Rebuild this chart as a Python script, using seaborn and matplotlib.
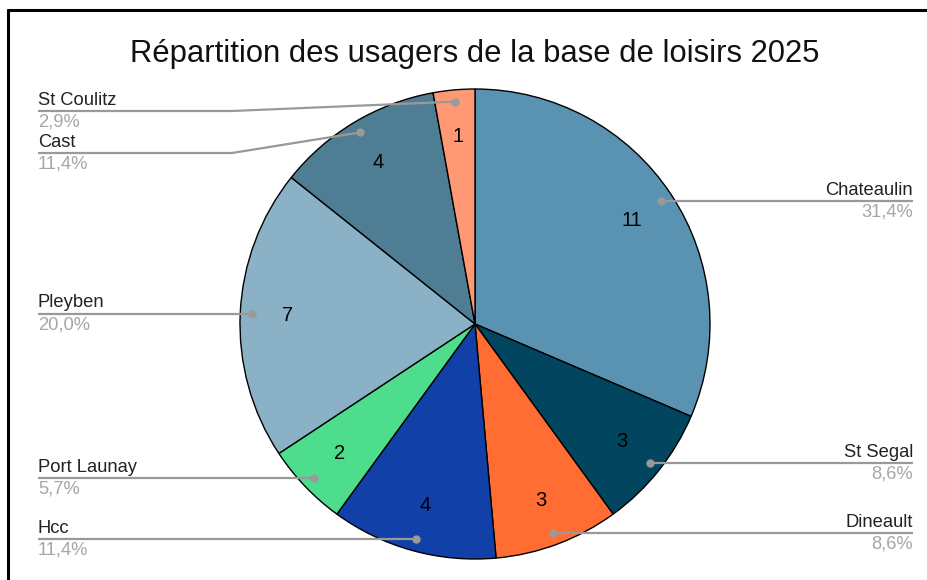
import numpy as np
import matplotlib
matplotlib.use("Agg")
import matplotlib.pyplot as plt
import seaborn as sns

# ---- data ----
categories = ["Chateaulin", "St Segal", "Dineault", "Hcc", "Port Launay", "Pleyben", "Cast", "St Coulitz"]
values = [11, 3, 3, 4, 2, 7, 4, 1]
colors = ["#5A93B1", "#02455F", "#FF6D33", "#1040A8", "#4DDD8C", "#8BB1C7", "#4E7D94", "#FF9974"]
title = "Répartition des usagers de la base de loisirs 2025"

sns.set_theme(style="white")
plt.rcParams["font.family"] = ["Liberation Sans", "DejaVu Sans"]

W, H = 928, 580
fig = plt.figure(figsize=(W / 100, H / 100), dpi=100)
ax = fig.add_axes([0, 0, 1, 1])

cx, cy_px, R = 475, 324, 235
cy = H - cy_px

wedges, _ = ax.pie(values, colors=colors, startangle=90, counterclock=False,
                   center=(cx, cy), radius=R,
                   wedgeprops=dict(edgecolor="black", linewidth=1.0))
ax.set_xlim(0, W)
ax.set_ylim(0, H)
ax.set_aspect("equal")
ax.axis("off")

total = sum(values)
pcts = [v / total * 100 for v in values]

# label line y overrides (pixel rows) for crowded labels
line_override = {"Cast": 153, "St Coulitz": 111}
bend_x = {"Cast": 232, "St Coulitz": 232}

cum = 0
for name, v, p, w in zip(categories, values, pcts, wedges):
    mid = 90 - (cum + v / 2) / total * 360
    cum += v
    a = np.deg2rad(mid)
    # value inside slice
    vx, vy = cx + 0.80 * R * np.cos(a), cy + 0.80 * R * np.sin(a)
    ax.text(vx, vy, str(v), ha="center", va="center", fontsize=14.5, color="black")
    # dot
    dx, dy = cx + 0.95 * R * np.cos(a), cy + 0.95 * R * np.sin(a)
    right = np.cos(a) > 0
    ly = H - line_override[name] if name in line_override else dy
    xend = 913 if right else 38
    if name in bend_x:
        xs = [dx, bend_x[name], xend]
        ys = [dy, ly, ly]
    else:
        xs = [dx, xend]
        ys = [dy, ly]
    ax.plot(xs, ys, color="#999999", lw=1.6, solid_capstyle="butt", zorder=5)
    ax.plot([dx], [dy], "o", color="#9a9a9a", ms=5, zorder=6)
    ha = "right" if right else "left"
    ax.text(xend, ly + 2.5, name, ha=ha, va="bottom", fontsize=13.2, color="#222222")
    pct_txt = f"{p:.1f}%".replace(".", ",")
    ax.text(xend, ly - 2.5, pct_txt, ha=ha, va="top", fontsize=13.2, color="#a6a6a6")

ax.text(475, H - 54, title, ha="center", va="center", fontsize=22.3, color="#111111")

# outer frame (top and left edges visible)
ax.plot([8, W], [H - 10, H - 10], color="black", lw=2.2, clip_on=False)
ax.plot([8, 8], [H - 10, 0], color="black", lw=2.2, clip_on=False)

fig.savefig("out.png", dpi=100)
